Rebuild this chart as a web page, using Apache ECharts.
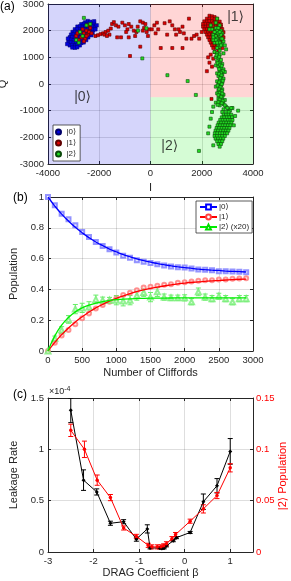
<!DOCTYPE html>
<html><head><meta charset="utf-8">
<script src="https://cdn.jsdelivr.net/npm/echarts@6/dist/echarts.min.js"></script>
<style>html,body{margin:0;padding:0;background:#fff}#c{width:291px;height:581px}</style>
</head><body><div id="c"></div>
<script>
// ---------- Panel (a) data: IQ single-shot points ----------
var blueCloud = [[-2450,2360],[-2350,2330],[-2550,2310],
[-2700,2240],[-2600,2260],[-2500,2230],[-2400,2250],[-2300,2220],[-2210,2270],
[-2850,2150],[-2750,2160],[-2650,2140],[-2550,2170],[-2450,2150],[-2350,2140],[-2250,2160],[-2160,2130],
[-2950,2050],[-2850,2060],[-2750,2040],[-2650,2070],[-2550,2050],[-2450,2040],[-2350,2060],[-2230,2040],
[-3040,1950],[-2950,1960],[-2850,1940],[-2750,1970],[-2650,1950],[-2550,1940],[-2450,1960],[-2350,1950],[-2260,1930],
[-3100,1850],[-3000,1860],[-2900,1840],[-2800,1870],[-2700,1850],[-2600,1840],[-2500,1860],[-2400,1850],[-2310,1830],
[-3150,1750],[-3050,1760],[-2950,1740],[-2850,1770],[-2750,1750],[-2650,1740],[-2550,1760],[-2430,1750],
[-3190,1650],[-3100,1660],[-3000,1640],[-2900,1670],[-2800,1650],[-2700,1640],[-2600,1660],[-2510,1650],
[-3200,1550],[-3100,1560],[-3000,1540],[-2900,1570],[-2800,1550],[-2700,1540],[-2610,1560],
[-3150,1450],[-3050,1460],[-2950,1440],[-2850,1470],[-2760,1450],
[-3050,1370],[-2950,1360],[-2860,1380],
[-3250,1500],[-2100,2200],[-2200,2350],[-3220,1700],[-2150,2050]];
var redPoints = [
// inside |0> cloud
[-2600,1900],[-2500,2000],[-2700,1750],[-2450,1850],[-2800,1650],[-2550,1700],[-2350,2100],[-2650,2050],
[-2900,1800],[-2400,1950],[-2750,1950],[-2500,1800],[-2600,1600],[-2300,1900],[-2850,1900],[-2450,2200],
// transit trail
[-2150,1800],[-2050,1830],[-1950,1870],[-1850,1900],[-1750,1950],[-1650,2000],[-1550,2080],[-1500,2250],
[-1430,2320],[-1350,2200],[-1250,2150],[-1100,2300],[-1000,2200],[-900,2050],[-850,2250],[-750,2150],
[-650,2000],[-600,1800],[-500,2150],[-400,2350],[-300,2300],[-250,2100],[-150,1950],[-100,1800],[-50,2050],
[-1300,1750],[-1150,1750],[-850,1750],[-800,1050],[-400,1400],[-1800,1850],[-1600,1850],[-1700,1800],
[-950,1950],[-550,1950],[-300,2000],[-200,2250],
[150,2200],[250,2300],[550,2280],[650,1850],[750,2350],[850,2200],[950,2050],[1000,1850],[1150,1950],
[1250,2150],[1300,1900],[1400,1700],[1500,2450],[1600,1700],[1700,1800],[1800,1850],[1900,1700],[2000,1950],
[400,1350],[850,1350],[1250,1350],[200,1900],[50,2050],[1100,2050],[300,2050],
// |1> cloud
[2300,2560],[2400,2540],[2500,2510],
[2200,2450],[2300,2440],[2400,2460],[2500,2430],[2600,2450],
[2100,2350],[2200,2340],[2300,2360],[2400,2350],[2500,2330],[2600,2350],[2700,2340],
[2050,2250],[2150,2260],[2250,2240],[2350,2250],[2450,2270],[2550,2240],[2650,2250],[2750,2230],
[2050,2150],[2150,2140],[2250,2160],[2350,2150],[2450,2140],[2550,2160],[2650,2150],[2750,2140],
[2100,2050],[2200,2060],[2300,2040],[2400,2050],[2500,2060],[2600,2040],[2700,2050],[2800,2060],
[2150,1950],[2250,1940],[2350,1960],[2450,1950],[2550,1940],[2650,1960],[2750,1950],[2850,1940],
[2200,1850],[2300,1860],[2400,1840],[2500,1850],[2600,1860],[2700,1840],[2800,1850],
[2250,1750],[2350,1740],[2450,1760],[2550,1750],[2650,1740],[2750,1760],[2850,1750],
[2300,1650],[2400,1660],[2500,1640],[2600,1650],[2700,1660],[2800,1640],
[2350,1550],[2450,1540],[2550,1560],[2650,1550],[2750,1540],
[2400,1450],[2500,1460],[2600,1440],[2700,1450],
[2450,1350],[2550,1360],[2650,1340],
[2500,1200],[2350,1100],[2450,950],[2300,800],[2400,650],[2200,480],[2650,1250],[2800,1350],[2250,1000],[2380,-560]];
var greenPoints = [
[-2600,2480],[-2750,1950],[-2500,2200],[-2900,1650],[-2350,2250],[-2800,1550],[-2650,1800],
[-490,2000],[-160,2090],[-320,960],[660,330],[1450,110],[1770,-410],[1890,-2510],
[2550,2100],[2600,1900],[2700,1800],[2500,1700],[2650,1600],[2450,1850],[2750,2000],[2700,2200],[2550,2300],
[2650,1450],[2800,1500],[2500,1550],[2400,2050],[2600,2000],[2750,1700],[2850,1600],[2700,1400],[2600,1350],
[2900,1450],[2500,1950],[2650,2100],[2350,2200],[2550,1800],[2450,1650],[2800,1900],[2600,2450],[2950,1300],
[2300,2050],[2700,1250],[2850,1150],
[2700,1550],[2600,1700],[2750,1850],[2650,1900],[2550,1650],[2800,1700],[2700,1950],[2450,1750],[2600,1550],[2750,1450],
[2500,1200],[2600,1150],[2700,1100],[2550,1000],[2650,950],[2750,900],[2600,850],[2700,800],[2800,750],
[2550,700],[2650,650],[2750,600],[2850,550],[2900,450],[2700,500],[2600,400],[2800,350],[2650,300],
[2750,250],[2850,200],[2700,150],[2600,100],[2800,50],[2650,0],[2750,-50],[2550,-100],[2700,-150],
[2800,-200],[2650,-250],[2750,-300],[2600,-350],[2850,-400],[2700,-450],[2800,-500],[2650,-550],[2900,-600],
[2750,-650],[2550,-700],[2850,-750],[2700,-800],[2950,-850],[2450,-850],[3200,-900],[3050,-950],
[2580,1080],[2680,1020],[2620,780],[2720,720],[2780,680],[2680,560],[2820,480],[2750,420],[2680,380],
[2770,320],[2720,220],[2820,120],[2680,60],[2780,-10],[2620,-60],[2730,-120],[2680,-200],[2780,-260],
[2700,-330],[2800,-360],[2650,-420],[2760,-480],[2700,-590],[2820,-640],[2650,-680],[2780,-720],
[2900,-800],[2620,-780],[3000,-900],[2850,-950],[3100,-1000],[2800,-1050],
[2950,-1050],[3050,-1050],
[2850,-1150],[2950,-1150],[3050,-1150],[3150,-1150],
[2780,-1250],[2880,-1250],[2980,-1250],[3080,-1250],[3180,-1250],
[2720,-1350],[2820,-1350],[2920,-1350],[3020,-1350],[3120,-1350],[3200,-1350],
[2660,-1450],[2760,-1450],[2860,-1450],[2960,-1450],[3060,-1450],[3160,-1450],
[2620,-1550],[2720,-1550],[2820,-1550],[2920,-1550],[3020,-1550],[3120,-1550],
[2580,-1650],[2680,-1650],[2780,-1650],[2880,-1650],[2980,-1650],[3080,-1650],
[2540,-1750],[2640,-1750],[2740,-1750],[2840,-1750],[2940,-1750],[3040,-1750],
[2510,-1850],[2610,-1850],[2710,-1850],[2810,-1850],[2910,-1850],[2990,-1850],
[2500,-1950],[2600,-1950],[2700,-1950],[2800,-1950],[2900,-1950],
[2540,-2050],[2640,-2050],[2740,-2050],[2840,-2050],
[2600,-2150],[2700,-2150],[2800,-2150],
[2650,-2250],[2750,-2250],
[2350,-1300],[2300,-1600],[3300,-1200],[3420,-1000],[2450,-2300],[2700,-2350],[2250,-1850],[3250,-1550],[2400,-1050],[3150,-900]];
var stateLabels = [[-2650,-490,'|0⟩'],[3320,2510,'|1⟩'],[750,-2330,'|2⟩']];

// ---------- Panel (b) data: populations vs number of Cliffords ----------
var cliffords = [0,100,200,300,400,500,600,700,800,900,1000,1100,1200,1300,1400,1500,1600,1700,1800,1900,2000,2100,2200,2300,2400,2500,2600,2700,2800,2900];
var pop0 = [1.000,0.946,0.892,0.855,0.816,0.773,0.740,0.708,0.682,0.661,0.639,0.618,0.605,0.590,0.579,0.572,0.564,0.555,0.549,0.544,0.542,0.536,0.529,0.527,0.525,0.518,0.518,0.516,0.514,0.512];
var pop1 = [0.000,0.054,0.100,0.136,0.173,0.212,0.244,0.276,0.298,0.320,0.341,0.363,0.378,0.395,0.413,0.417,0.423,0.430,0.434,0.443,0.447,0.451,0.456,0.460,0.460,0.464,0.464,0.469,0.471,0.473];
var pop2x20 = [0.000,0.082,0.136,0.205,0.272,0.280,0.285,0.335,0.330,0.330,0.330,0.325,0.330,0.360,0.380,0.350,0.384,0.350,0.345,0.345,0.345,0.320,0.384,0.350,0.340,0.355,0.340,0.320,0.340,0.340];
var err0 = [0.004,0.006,0.006,0.006,0.007,0.007,0.007,0.007,0.008,0.007,0.008,0.008,0.008,0.008,0.007,0.006,0.006,0.006,0.006,0.006,0.006,0.006,0.006,0.006,0.006,0.006,0.006,0.006,0.006,0.006];
var err1 = [0.004,0.006,0.006,0.007,0.007,0.007,0.007,0.007,0.007,0.007,0.007,0.007,0.007,0.007,0.007,0.006,0.006,0.006,0.006,0.006,0.006,0.006,0.006,0.006,0.006,0.006,0.006,0.006,0.006,0.006];
var err2 = [0.005,0.015,0.022,0.025,0.030,0.030,0.035,0.028,0.020,0.018,0.030,0.032,0.030,0.030,0.025,0.030,0.030,0.020,0.018,0.018,0.020,0.020,0.025,0.020,0.020,0.020,0.020,0.020,0.020,0.020];
var fitX = [0,100,200,300,400,500,600,700,800,900,1000,1200,1400,1600,1800,2000,2200,2400,2600,2800,2900];
var fit0 = [1.000,0.941,0.889,0.844,0.803,0.768,0.736,0.708,0.684,0.662,0.643,0.612,0.587,0.568,0.553,0.541,0.532,0.525,0.519,0.515,0.513];
var fit1 = [0.000,0.056,0.106,0.150,0.189,0.223,0.253,0.280,0.303,0.324,0.342,0.373,0.397,0.415,0.429,0.441,0.449,0.456,0.461,0.466,0.467];
var fit2 = [0.000,0.098,0.168,0.218,0.254,0.280,0.298,0.311,0.321,0.328,0.333,0.339,0.342,0.343,0.344,0.345,0.345,0.345,0.345,0.345,0.345];
var legendB = ['|0⟩','|1⟩','|2⟩ (x20)'];

// ---------- Panel (c) data: leakage vs DRAG coefficient ----------
var betaBlack = [-2.5,-2.22,-1.93,-1.63,-1.34,-1.06,-0.82,-0.76,-0.55,-0.5,-0.45,-0.4,-0.25,-0.18,0.12,0.41,0.71,1.0];
var leakRate = [1.38,0.70,0.585,0.28,0.295,0.125,0.225,0.04,0.04,0.035,0.04,0.06,0.11,0.14,0.19,0.49,0.645,0.98]; // x1e-4
var leakErr = [0.12,0.10,0.03,0.02,0.02,0.02,0.04,0.01,0.01,0.01,0.01,0.01,0.01,0.01,0.01,0.075,0.07,0.125];
var betaRed = [-2.5,-2.2,-1.92,-1.63,-1.34,-1.06,-0.8,-0.72,-0.6,-0.52,-0.46,-0.4,-0.28,-0.2,0.12,0.41,0.71,1.0];
var pop2c = [0.1185,0.100,0.070,0.053,0.0234,0.0152,0.0065,0.005,0.005,0.005,0.006,0.008,0.013,0.017,0.030,0.042,0.055,0.082];
var pop2cErr = [0.006,0.008,0.005,0.003,0.002,0.002,0.002,0.002,0.002,0.002,0.002,0.002,0.002,0.002,0.002,0.004,0.003,0.004];

// ---------- chart ----------
var FONT = '"Liberation Sans", Arial, "DejaVu Sans", sans-serif';
var AX = '#262626';
var GRIDC = 'rgba(0,0,0,0.13)';
var chart = echarts.init(document.getElementById('c'), null, {renderer:'canvas'});

function zip(xs, ys){ return xs.map(function(x,i){ return [x, ys[i]]; }); }
function errData(xs, ys, es){ return xs.map(function(x,i){ return [x, ys[i]-es[i], ys[i]+es[i]]; }); }
function plain(v){ return String(v); }
function errSeries(xi, yi, data, color, cap){
  return {type:'custom', xAxisIndex:xi, yAxisIndex:yi, data:data, silent:true, clip:true, z:3,
    renderItem:function(params, api){
      var x=api.value(0), p1=api.coord([x, api.value(1)]), p2=api.coord([x, api.value(2)]);
      var st={stroke:color, lineWidth:1};
      return {type:'group', children:[
        {type:'line', shape:{x1:p1[0],y1:p1[1],x2:p2[0],y2:p2[1]}, style:st},
        {type:'line', shape:{x1:p1[0]-cap,y1:p1[1],x2:p1[0]+cap,y2:p1[1]}, style:st},
        {type:'line', shape:{x1:p2[0]-cap,y1:p2[1],x2:p2[0]+cap,y2:p2[1]}, style:st}
      ]};
    }};
}
function baseX(grid, min, max, interval, name, gap, extra){
  var o = {gridIndex:grid, type:'value', min:min, max:max, interval:interval,
    axisLine:{show:true, onZero:false, lineStyle:{color:AX, width:1}},
    axisTick:{show:true, inside:true, length:3, lineStyle:{color:AX}},
    axisLabel:{color:AX, fontSize:9.5, fontFamily:FONT, margin:4, formatter:plain},
    splitLine:{show:true, lineStyle:{color:GRIDC, width:1}},
    name:name, nameLocation:'middle', nameGap:gap, nameTextStyle:{color:AX, fontSize:11, fontFamily:FONT}};
  for (var k in extra) o[k]=extra[k];
  return o;
}
function mirror(grid, min, max, interval, pos){
  return {gridIndex:grid, type:'value', min:min, max:max, interval:interval, position:pos,
    axisLine:{show:true, onZero:false, lineStyle:{color:AX, width:1}},
    axisTick:{show:true, inside:true, length:3, lineStyle:{color:AX}},
    axisLabel:{show:false}, splitLine:{show:false}};
}

var option = {
  animation:false,
  backgroundColor:'#fff',
  textStyle:{fontFamily:FONT},
  grid:[
    {left:48, top:4, width:205, height:160, outerBoundsMode:'none', containLabel:false},
    {left:48, top:197, width:205, height:154, outerBoundsMode:'none', containLabel:false},
    {left:48, top:398, width:205, height:154, outerBoundsMode:'none', containLabel:false}
  ],
  xAxis:[
    baseX(0,-4000,4000,2000,'I',18,{}),
    mirror(0,-4000,4000,2000,'top'),
    baseX(1,0,3000,500,'Number of Cliffords',16,{}),
    mirror(1,0,3000,500,'top'),
    baseX(2,-3,1.5,1,'DRAG Coefficient β',15,{axisLabel:{color:AX, fontSize:9.5, fontFamily:FONT, margin:4,
      formatter:function(v){ return v===1.5 ? '' : String(v); }}}),
    mirror(2,-3,1.5,1,'top')
  ],
  yAxis:[
    baseX(0,-3000,3000,1000,'Q',33,{}),
    mirror(0,-3000,3000,1000,'right'),
    baseX(1,0,1,0.2,'Population',21,{}),
    mirror(1,0,1,0.2,'right'),
    baseX(2,0,1.5,0.5,'Leakage Rate',21,{}),
    {gridIndex:2, type:'value', min:0, max:0.15, interval:0.05, position:'right',
      axisLine:{show:true, onZero:false, lineStyle:{color:AX, width:1}},
      axisTick:{show:true, inside:true, length:3, lineStyle:{color:AX}},
      axisLabel:{color:'#ff0000', fontSize:9.5, fontFamily:FONT, margin:3, formatter:plain},
      splitLine:{show:false}}
  ],
  legend:[
    {data:['a0','a1','a2'], left:53, top:125, orient:'vertical', icon:'circle', itemWidth:10, itemHeight:5, itemGap:3,
     backgroundColor:'#fff', borderColor:'#333', borderWidth:0.8, padding:[3,4,3,2],
     formatter:function(n){ return {a0:'|0⟩',a1:'|1⟩',a2:'|2⟩'}[n]; },
     textStyle:{fontSize:8, color:AX, fontFamily:FONT, padding:[0,0,0,-2]}, selectedMode:false},
    {data:['b0','b1','b2'], left:196, top:201, orient:'vertical', itemWidth:17, itemHeight:6, itemGap:2,
     backgroundColor:'#fff', borderColor:'#333', borderWidth:0.8, padding:[2,3,2,3],
     formatter:function(n){ return {b0:legendB[0],b1:legendB[1],b2:legendB[2]}[n]; },
     textStyle:{fontSize:8, color:AX, fontFamily:FONT, padding:[0,0,0,-3]}, selectedMode:false}
  ],
  graphic:[
    {type:'text', left:0, top:1, style:{text:'(a)', fontSize:12, fill:'#000', fontFamily:FONT}},
    {type:'text', left:13, top:192, style:{text:'(b)', fontSize:12, fill:'#000', fontFamily:FONT}},
    {type:'text', left:13, top:389, style:{text:'(c)', fontSize:12, fill:'#000', fontFamily:FONT}},
    {type:'text', left:49, top:386, style:{text:'{a|×10}{b|-4}', fill:AX, fontFamily:FONT,
      rich:{a:{fontSize:9, fill:AX, fontFamily:FONT}, b:{fontSize:7, fill:AX, fontFamily:FONT, verticalAlign:'top', padding:[0,0,4,0]}}}},
    {type:'text', x:283, y:476, rotation:Math.PI/2, style:{text:'|2⟩ Population', fontSize:11, fill:'#ff0000',
      fontFamily:FONT, align:'center', verticalAlign:'middle'}}
  ],
  series:[
    {name:'a0', type:'scatter', xAxisIndex:0, yAxisIndex:0, data:blueCloud, symbol:'rect', symbolSize:3.5,
     itemStyle:{color:'#0000e0', borderColor:'#00006a', borderWidth:0.5, opacity:1}, z:2,
     markArea:{silent:true, itemStyle:{borderWidth:0}, data:[
       [{coord:[-4000,-3000], itemStyle:{color:'rgba(0,0,230,0.165)'}},{coord:[0,3000]}],
       [{coord:[0,-500], itemStyle:{color:'rgba(255,0,0,0.165)'}},{coord:[4000,3000]}],
       [{coord:[0,-3000], itemStyle:{color:'rgba(0,235,0,0.165)'}},{coord:[4000,-500]}]
     ]}},
    {name:'a1', type:'scatter', xAxisIndex:0, yAxisIndex:0, data:redPoints, symbol:'rect', symbolSize:3,
     itemStyle:{color:'#e00000', borderColor:'#600000', borderWidth:0.6, opacity:1}, z:3},
    {name:'a2', type:'scatter', xAxisIndex:0, yAxisIndex:0, data:greenPoints, symbol:'rect', symbolSize:3,
     itemStyle:{color:'#22dd22', borderColor:'#0a4a0a', borderWidth:0.6, opacity:1}, z:4},
    {type:'scatter', xAxisIndex:0, yAxisIndex:0, data:stateLabels, symbolSize:0, silent:true, z:5,
     label:{show:true, position:'inside', formatter:function(p){ return p.value[2]; }, fontSize:14, color:'#111', fontFamily:FONT}},

    errSeries(2,2,errData(cliffords,pop0,err0),'#5a5aff',2),
    errSeries(2,2,errData(cliffords,pop1,err1),'#ff6a6a',2),
    errSeries(2,2,errData(cliffords,pop2x20,err2),'#66ee66',2.5),
    {type:'scatter', xAxisIndex:2, yAxisIndex:2, data:zip(cliffords,pop0), symbol:'emptyRect', symbolSize:4,
     itemStyle:{color:'#7a7aff', borderWidth:1}, z:4},
    {type:'scatter', xAxisIndex:2, yAxisIndex:2, data:zip(cliffords,pop1), symbol:'emptyCircle', symbolSize:4,
     itemStyle:{color:'#ff7a7a', borderWidth:1}, z:4},
    {type:'scatter', xAxisIndex:2, yAxisIndex:2, data:zip(cliffords,pop2x20), symbol:'emptyTriangle', symbolSize:5,
     itemStyle:{color:'#77ee77', borderWidth:1}, z:4},
    {type:'line', xAxisIndex:2, yAxisIndex:2, data:zip(fitX,fit0), smooth:true, showSymbol:false, symbol:'none',
     lineStyle:{color:'#0000ff', width:1.3}, z:5},
    {type:'line', xAxisIndex:2, yAxisIndex:2, data:zip(fitX,fit1), smooth:true, showSymbol:false, symbol:'none',
     lineStyle:{color:'#ff0000', width:1.3}, z:5},
    {type:'line', xAxisIndex:2, yAxisIndex:2, data:zip(fitX,fit2), smooth:true, showSymbol:false, symbol:'none',
     lineStyle:{color:'#00ee00', width:1.3}, z:5},
    {name:'b0', type:'line', xAxisIndex:2, yAxisIndex:2, data:[], symbol:'emptyRect', symbolSize:5,
     itemStyle:{color:'#0000ff'}, lineStyle:{color:'#0000ff', width:1.3}},
    {name:'b1', type:'line', xAxisIndex:2, yAxisIndex:2, data:[], symbol:'emptyCircle', symbolSize:5,
     itemStyle:{color:'#ff4040'}, lineStyle:{color:'#ff0000', width:1.3}},
    {name:'b2', type:'line', xAxisIndex:2, yAxisIndex:2, data:[], symbol:'emptyTriangle', symbolSize:6,
     itemStyle:{color:'#00dd00'}, lineStyle:{color:'#00ee00', width:1.3}},

    errSeries(4,4,errData(betaBlack,leakRate,leakErr),'#000',2.5),
    errSeries(4,5,errData(betaRed,pop2c,pop2cErr),'#ff0000',2.5),
    {type:'line', xAxisIndex:4, yAxisIndex:4, data:zip(betaBlack,leakRate), symbol:'diamond', symbolSize:4,
     itemStyle:{color:'#000'}, lineStyle:{color:'#000', width:1}, z:4},
    {type:'line', xAxisIndex:4, yAxisIndex:5, data:zip(betaRed,pop2c), symbol:'circle', symbolSize:3.5,
     itemStyle:{color:'#ff0000'}, lineStyle:{color:'#ff0000', width:1}, z:4}
  ]
};
chart.setOption(option);
</script>
</body></html>
